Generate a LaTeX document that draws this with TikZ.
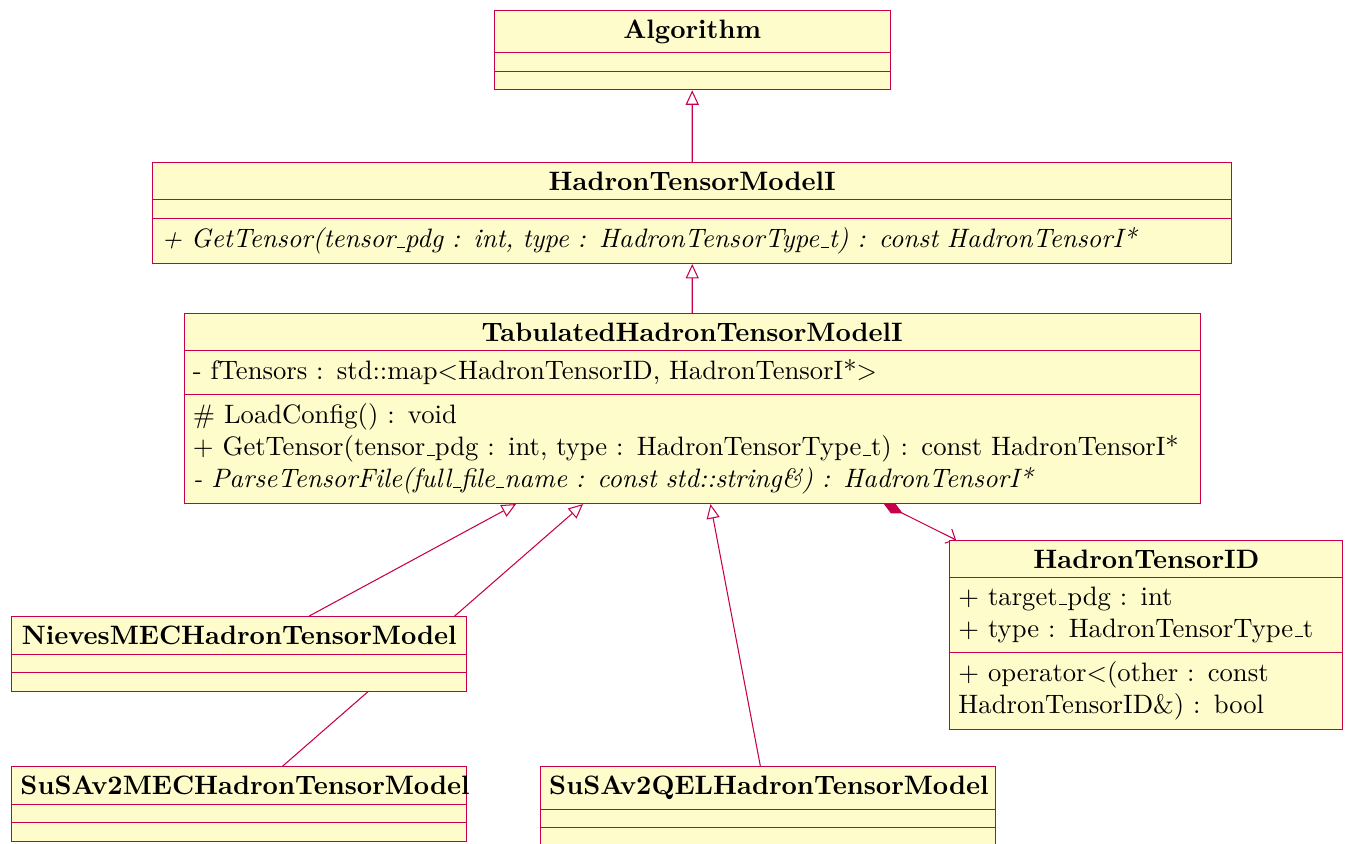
\documentclass[tikz,border=0pt]{standalone}
\usepackage{tikz}
\usetikzlibrary{arrows.meta, shapes.multipart, backgrounds}
\definecolor{umlred}{RGB}{200,0,75}
\colorlet{umlfill}{yellow!20}
\newcommand{\uscore}{\leavevmode\kern.06em\vbox{\hrule width.3em}}
\newcommand{\umltitle}[1]{\hbox to\hsize{\hfil\textbf{#1}\hss}}

\tikzset{
  umlclass/.style={rectangle split, rectangle split parts=3, draw=umlred,
    fill=umlfill, anchor=north west, text width=#1, align=left,
    font=\fontsize{10.15}{12.2}\selectfont},
  inherit/.style={umlred, -{Triangle[open, length=5.5pt, width=5pt]}},
  compose/.style={umlred, {Diamond[length=8pt, width=4pt]}-{Straight Barb[length=3pt, width=6pt]}},
}

\begin{document}
\begin{tikzpicture}
\useasboundingbox (0,0) rectangle (18.05,11.30);

% classes
\node[umlclass=5.07cm] (alg) at (6.61,11.17)
  {\umltitle{Algorithm}\nodepart{second}\nodepart{third}};
\node[umlclass=14.21cm] (htmi) at (2.04,9.13)
  {\umltitle{HadronTensorModelI}\nodepart{second}\nodepart{third}%
   \itshape + GetTensor(tensor\uscore pdg : int, type : HadronTensorType\uscore t) : const HadronTensorI*};
\node[umlclass=13.37cm] (tab) at (2.46,7.11)
  {\umltitle{TabulatedHadronTensorModelI}
   \nodepart{second}- fTensors : std::map$<$HadronTensorID, HadronTensorI*$>$
   \nodepart{third}\# LoadConfig() : void\\
   + GetTensor(tensor\uscore pdg : int, type : HadronTensorType\uscore t) : const HadronTensorI*\\
   {\itshape - ParseTensorFile(full\uscore file\uscore name : const std::string\&) : HadronTensorI*}};
\node[umlclass=5.03cm] (htid) at (12.71,4.07)
  {\umltitle{HadronTensorID}
   \nodepart{second}+ target\uscore pdg : int\\
   + type : HadronTensorType\uscore t
   \nodepart{third}+ operator$<$(other : const HadronTensorID\&) : bool};
\node[umlclass=5.86cm] (nieves) at (0.15,3.05)
  {\umltitle{NievesMECHadronTensorModel}\nodepart{second}\nodepart{third}};
\node[umlclass=5.86cm] (mec) at (0.15,1.04)
  {\umltitle{SuSAv2MECHadronTensorModel}\nodepart{second}\nodepart{third}};
\node[umlclass=5.86cm] (qel) at (7.23,1.04)
  {\umltitle{SuSAv2QELHadronTensorModel}\nodepart{second}\nodepart{third}};

% relations
\begin{scope}[on background layer]
\draw[inherit] (htmi) -- (alg);
\draw[inherit] (tab) -- (htmi);
\draw[inherit] (nieves) -- (tab);
\draw[inherit] (mec) -- (tab);
\draw[inherit] (qel) -- (tab);
\draw[compose] (tab) -- (htid);
\end{scope}
\end{tikzpicture}
\end{document}
